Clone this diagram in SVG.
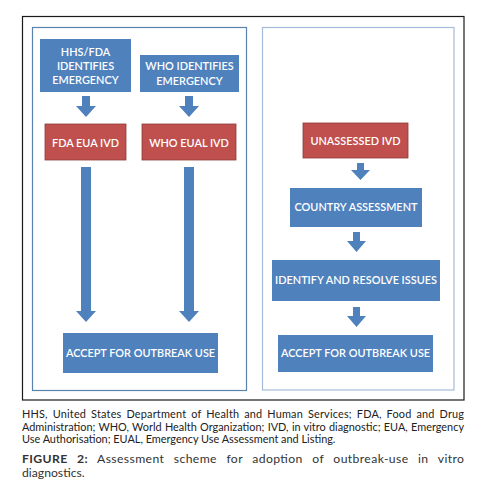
<svg xmlns="http://www.w3.org/2000/svg" width="479" height="490" viewBox="0 0 479 490">
<style>
.blue{fill:#4F81BD}
.red{fill:#C0504D;stroke:#8C3A37;stroke-width:0.8}
.lbl{font-family:Lato,"Liberation Sans",sans-serif;font-size:10.9px;fill:#fff;text-anchor:middle;font-weight:600}
.arr{fill:#4F81BD}
.cap{font-family:Lato,"Liberation Sans",sans-serif;font-size:10.9px;fill:#222}
.fig{font-family:Lato,"Liberation Sans",sans-serif;font-size:12.2px;fill:#333}
</style>
<rect x="0" y="0" width="479" height="490" fill="#fff"/>
<rect id="frame" x="22.5" y="16.5" width="441.5" height="383.5" fill="none" stroke="#1a1a1a" stroke-width="1.2"/>
<rect id="panel-left" x="32.5" y="27.5" width="214" height="363" fill="none" stroke="#5A82AE" stroke-width="1.2"/>
<rect id="panel-right" x="262.5" y="27.5" width="191.5" height="362.5" fill="none" stroke="#A3BBD9" stroke-width="1.2"/>

<g id="connectors">
<path class="arr" d="M82,96 H90 V106 H96 L86,117 L76,106 H82 Z"/>
<path class="arr" d="M185,96 H193 V106 H199 L189,117 L179,106 H185 Z"/>
<path class="arr" d="M81,167 H91 V311 H96 L86,322 L76,311 H81 Z"/>
<path class="arr" d="M184,167 H194 V311 H199 L189,322 L179,311 H184 Z"/>
<path class="arr" d="M357,163 H364 V170 H370 L360.5,180 L351,170 H357 Z"/>
<path class="arr" d="M353,232 H360 V241 H366 L356.5,252 L347,241 H353 Z"/>
<path class="arr" d="M353,307 H360 V316 H366 L356.5,327 L347,316 H353 Z"/>
</g>

<g id="hhs-fda">
<rect class="blue" x="40" y="39" width="91" height="53"/>
<text class="lbl" x="85.5" y="56">HHS/FDA</text>
<text class="lbl" x="85.5" y="69.5">IDENTIFIES</text>
<text class="lbl" x="85.5" y="84">EMERGENCY</text>
</g>
<g id="who-identifies">
<rect class="blue" x="140" y="55" width="99" height="37"/>
<text class="lbl" x="189.5" y="69.5">WHO IDENTIFIES</text>
<text class="lbl" x="189.5" y="84.5">EMERGENCY</text>
</g>
<g id="fda-eua">
<rect class="red" x="45" y="124" width="81" height="36"/>
<text class="lbl" x="85.5" y="146.5">FDA EUA IVD</text>
</g>
<g id="who-eual">
<rect class="red" x="142" y="124" width="94" height="36"/>
<text class="lbl" x="189" y="146.5">WHO EUAL IVD</text>
</g>
<g id="accept-left">
<rect class="blue" x="63" y="333" width="155" height="40"/>
<text class="lbl" x="140.5" y="356.5">ACCEPT FOR OUTBREAK USE</text>
</g>

<g id="unassessed">
<rect class="red" x="303" y="123" width="105" height="35"/>
<text class="lbl" x="355.5" y="144.5">UNASSESSED IVD</text>
</g>
<g id="country-assessment">
<rect class="blue" x="290" y="188" width="132" height="39"/>
<text class="lbl" x="356" y="210.5">COUNTRY ASSESSMENT</text>
</g>
<g id="identify-resolve">
<rect class="blue" x="272" y="260" width="168" height="41"/>
<text class="lbl" x="356" y="283.5">IDENTIFY AND RESOLVE ISSUES</text>
</g>
<g id="accept-right">
<rect class="blue" x="278" y="335" width="155" height="37"/>
<text class="lbl" x="355.5" y="356.5">ACCEPT FOR OUTBREAK USE</text>
</g>

<g id="caption">
<text class="cap" x="22" y="418" word-spacing="2" textLength="442" lengthAdjust="spacing">HHS, United States Department of Health and Human Services; FDA, Food and Drug</text>
<text class="cap" x="22" y="431" word-spacing="0.5" textLength="442" lengthAdjust="spacing">Administration; WHO, World Health Organization; IVD, in vitro diagnostic; EUA, Emergency</text>
<text class="cap" x="22" y="443">Use Authorisation; EUAL, Emergency Use Assessment and Listing.</text>
<text class="fig" x="22" y="463" word-spacing="6" textLength="442" lengthAdjust="spacing"><tspan font-weight="bold">FIGURE 2:</tspan> Assessment scheme for adoption of outbreak-use in vitro</text>
<text class="fig" x="22" y="477">diagnostics.</text>
</g>
</svg>
